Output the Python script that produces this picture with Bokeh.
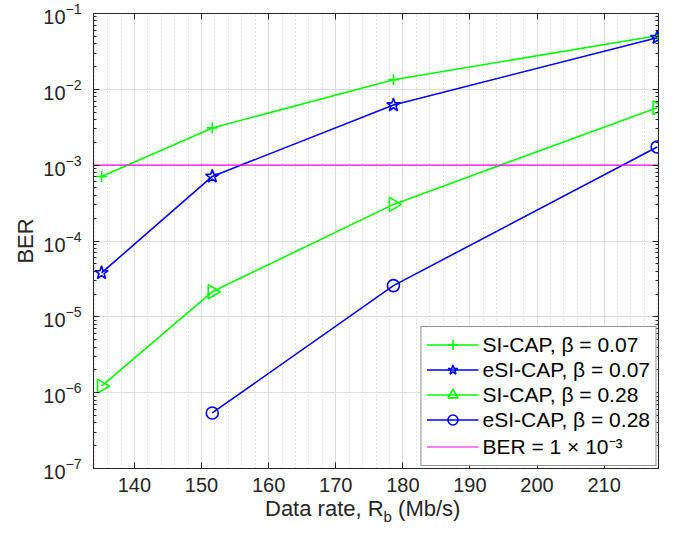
import math
from bokeh.plotting import figure
from bokeh.layouts import column
from bokeh.models import (LinearAxis, LogAxis, SingleIntervalTicker, LogTicker,
                          Legend, LegendItem, Div)
from bokeh.embed import file_html
from bokeh.resources import INLINE

# ---- data ----
rate = [135.1, 151.6, 178.6, 217.9]
ber_si_007 = [7.1e-4, 3.1e-3, 1.34e-2, 5.1e-2]
ber_esi_007 = [3.8e-5, 7.1e-4, 6.2e-3, 4.8e-2]
ber_si_028 = [1.22e-6, 2.14e-5, 3.04e-4, 5.7e-3]
rate_esi_028 = [151.6, 178.6, 217.9]
ber_esi_028 = [5.4e-7, 2.58e-5, 1.74e-3]
ber_threshold = 1e-3
x_lim = [133.9, 218.1]
y_lim = [1e-7, 1e-1]
x_tick_step = 10

labels = ["SI-CAP, β = 0.07", "eSI-CAP, β = 0.07", "SI-CAP, β = 0.28",
          "eSI-CAP, β = 0.28", "BER = 1 × 10⁻³"]
x_title = ("Data rate, R", "b", " (Mb/s)")
y_title = "BER"

GREEN = "#00ff00"
BLUE = "#0000ff"
MAG = "#ff00ff"
AX = "#262626"
FONT = "Liberation Sans"

p = figure(width=670, height=501, output_backend="svg", toolbar_location=None,
           x_range=tuple(x_lim), y_range=tuple(y_lim), y_axis_type="log",
           min_border_left=93, min_border_right=12, min_border_top=13,
           min_border_bottom=33, background_fill_color="white",
           border_fill_color="white")
p.outline_line_color = AX
p.outline_line_width = 1

xt = SingleIntervalTicker(interval=x_tick_step, num_minor_ticks=5)
yt = LogTicker(num_minor_ticks=10)
p.xaxis.ticker = xt
p.yaxis.ticker = yt

for ax in [p.xaxis[0], p.yaxis[0]]:
    ax.axis_line_color = AX
    ax.major_tick_line_color = AX
    ax.minor_tick_line_color = AX
    ax.major_tick_in = 6
    ax.major_tick_out = 0
    ax.minor_tick_in = 3
    ax.minor_tick_out = 0
    ax.major_label_text_font = FONT
    ax.major_label_text_font_size = "20px"
    ax.major_label_text_color = AX
    ax.axis_label_text_font = FONT
    ax.axis_label_text_font_size = "22px"
    ax.axis_label_text_font_style = "normal"
    ax.axis_label_text_color = AX
p.xaxis.minor_tick_line_color = None
p.xaxis.major_label_standoff = 9
p.yaxis.major_label_standoff = 12
p.yaxis.axis_label = y_title
p.yaxis.axis_label_standoff = 2

hidden = dict(major_label_text_font_size="1px", major_label_text_color=None,
              major_label_standoff=0)
top_ax = LinearAxis(ticker=xt, major_tick_in=6, major_tick_out=0,
                    minor_tick_line_color=None, axis_line_color=AX,
                    major_tick_line_color=AX, **hidden)
right_ax = LogAxis(ticker=yt, major_tick_in=6, major_tick_out=0, minor_tick_in=3,
                   minor_tick_out=0, axis_line_color=AX, major_tick_line_color=AX,
                   minor_tick_line_color=AX, **hidden)
p.add_layout(top_ax, "above")
p.add_layout(right_ax, "right")

p.xgrid.grid_line_color = "#dedede"
p.xgrid.minor_grid_line_color = "#c4c4c4"
p.xgrid.minor_grid_line_dash = "1 3"
p.ygrid.grid_line_color = "#dedede"
p.ygrid.minor_grid_line_color = None

lw = 1.6
r1l = p.line(rate, ber_si_007, line_color=GREEN, line_width=lw)
r1m = p.scatter(rate, ber_si_007, marker="cross", size=11, line_color=GREEN, line_width=lw)
r2l = p.line(rate, ber_esi_007, line_color=BLUE, line_width=lw)
r2m = p.scatter(rate, ber_esi_007, marker="star", size=14, line_color=BLUE,
                fill_color=None, line_width=lw)
r3l = p.line(rate, ber_si_028, line_color=GREEN, line_width=lw)
r3m = p.scatter(rate, ber_si_028, marker="triangle", size=14, angle=-math.pi / 2,
                line_color=GREEN, fill_color=None, line_width=lw)
r4l = p.line(rate_esi_028, ber_esi_028, line_color=BLUE, line_width=lw)
r4m = p.scatter(rate_esi_028, ber_esi_028, marker="circle", size=12, line_color=BLUE,
                fill_color=None, line_width=lw)
r5l = p.line(x_lim, [ber_threshold, ber_threshold], line_color=MAG, line_width=1.2)

legend = Legend(items=[
    LegendItem(label=labels[0], renderers=[r1l, r1m]),
    LegendItem(label=labels[1], renderers=[r2l, r2m]),
    LegendItem(label=labels[2], renderers=[r3l, r3m]),
    LegendItem(label=labels[3], renderers=[r4l, r4m]),
    LegendItem(label=labels[4], renderers=[r5l]),
], location="bottom_right")
legend.label_text_font = FONT
legend.label_text_font_size = "21px"
legend.label_text_color = "black"
legend.glyph_width = 52
legend.glyph_height = 25
legend.label_height = 25
legend.label_standoff = 4
legend.spacing = 0
legend.padding = 5
legend.margin = 2
legend.border_line_color = AX
legend.border_line_width = 1
legend.background_fill_alpha = 1
p.add_layout(legend)

# x-axis title with a real subscript, as HTML text under the plot
html = (
    '<div style="position:relative; left:265px; white-space:nowrap; '
    "font-family:'Liberation Sans'; font-size:22px; line-height:16px; color:%s;\">"
    '%s<span style="font-size:15px; position:relative; top:6px;">%s</span>%s</div>'
) % (AX, x_title[0], x_title[1], x_title[2])
xlabel = Div(text=html, width=670, height=30, margin=0)

layout = column(p, xlabel, spacing=0)
open("out.html", "w").write(file_html(layout, INLINE))
